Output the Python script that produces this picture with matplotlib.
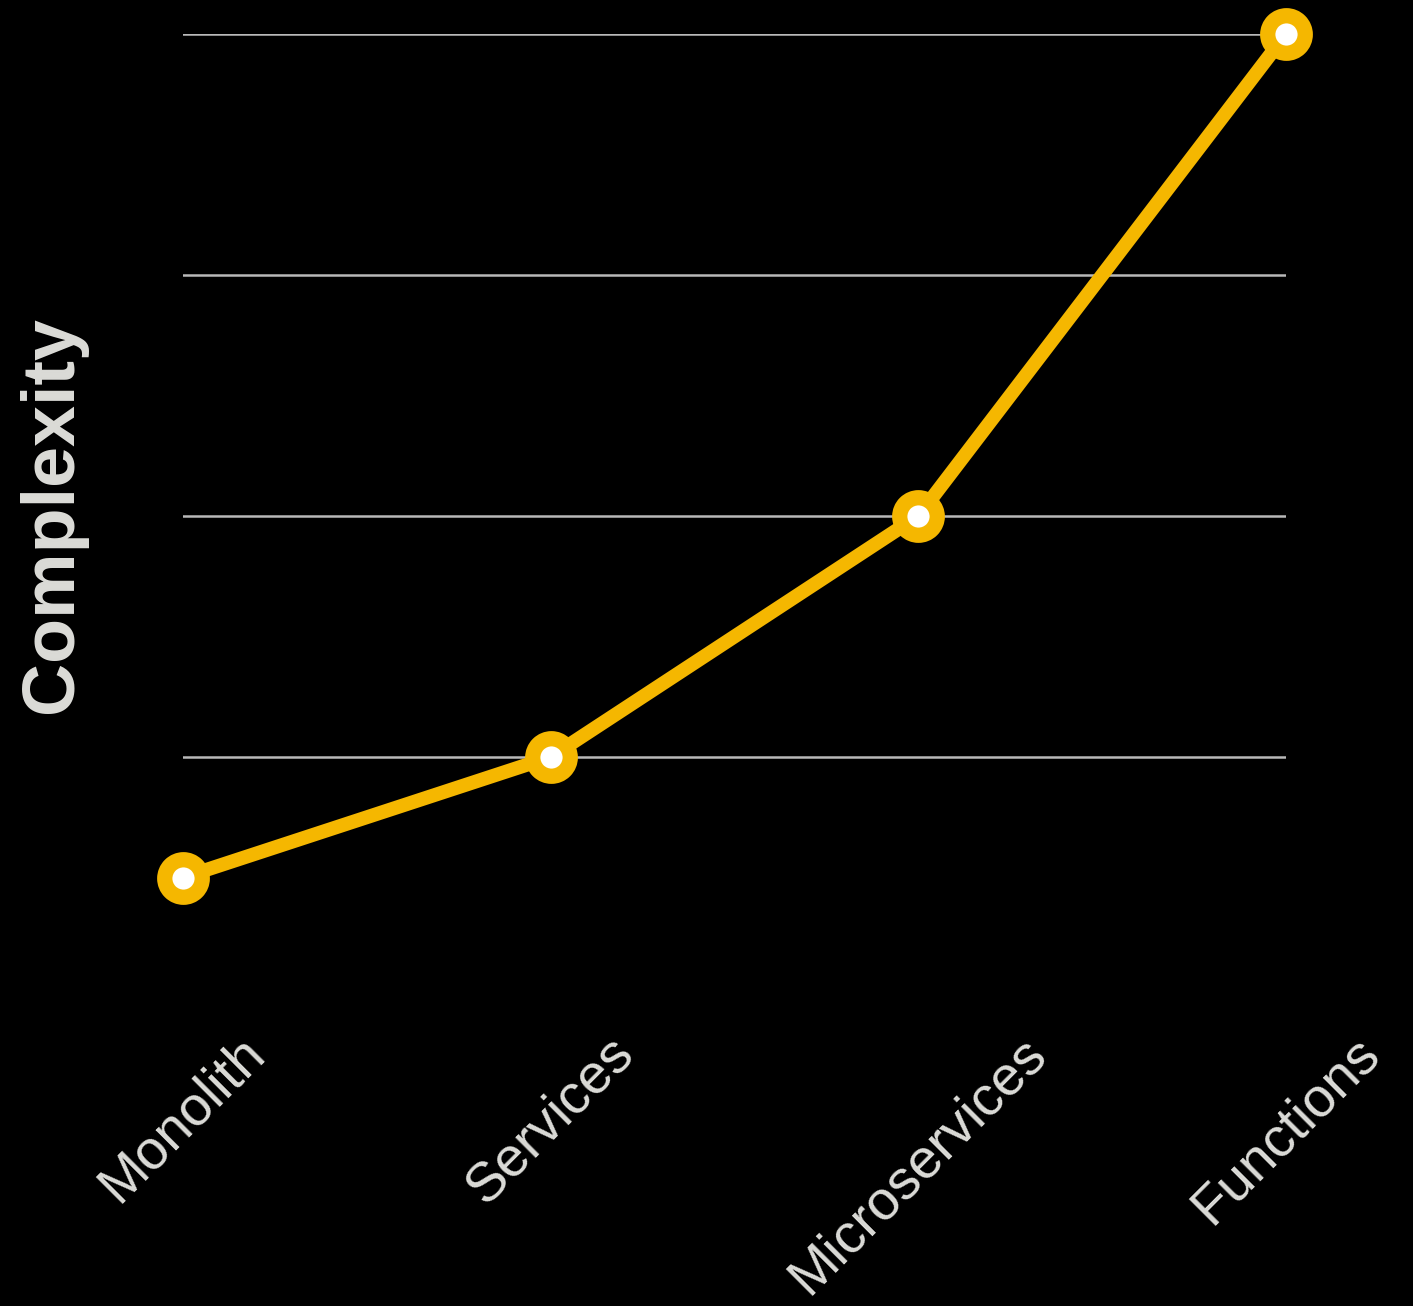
import numpy as np
import matplotlib
matplotlib.use('Agg')
import matplotlib.pyplot as plt

stages = ['Monolith', 'Services', 'Microservices', 'Functions']
complexity = [0.5, 1.0, 2.0, 4.0]
grid_levels = [1, 2, 3, 4]

gold = '#F5B700'
text_col = '#DCDCD8'

plt.rcParams['font.family'] = ['Liberation Sans', 'DejaVu Sans']

fig = plt.figure(figsize=(14.13, 13.06), dpi=100, facecolor='black')
# axes in pixel terms: x 183..1286, y 34..998 (from top)
W, H = 1413, 1306
ax = fig.add_axes([183 / W, 1 - 998 / H, (1286 - 183) / W, (998 - 34) / H])
ax.set_facecolor('black')

x = np.arange(len(stages))
for g in grid_levels:
    ax.axhline(g, color='#B8B8B8', lw=1.8, zorder=1)

ax.plot(x, complexity, color=gold, lw=10, marker='o', ms=27,
        mfc='white', mec=gold, mew=11, zorder=3, clip_on=False)

ax.set_xlim(0, 3)
ax.set_ylim(0, 4)
ax.set_xticks(x)
ax.set_xticklabels(stages, rotation=45, ha='center', va='top',
                   fontsize=40, color=text_col)
ax.tick_params(axis='x', length=0, pad=21)
ax.set_yticks([])
for s in ax.spines.values():
    s.set_visible(False)

fig.text(52 / W, 1 - 514 / H, 'Complexity', rotation=90, ha='center',
         va='center', fontsize=53, fontweight='bold', color=text_col)

fig.savefig('out.png', dpi=100, facecolor='black')
